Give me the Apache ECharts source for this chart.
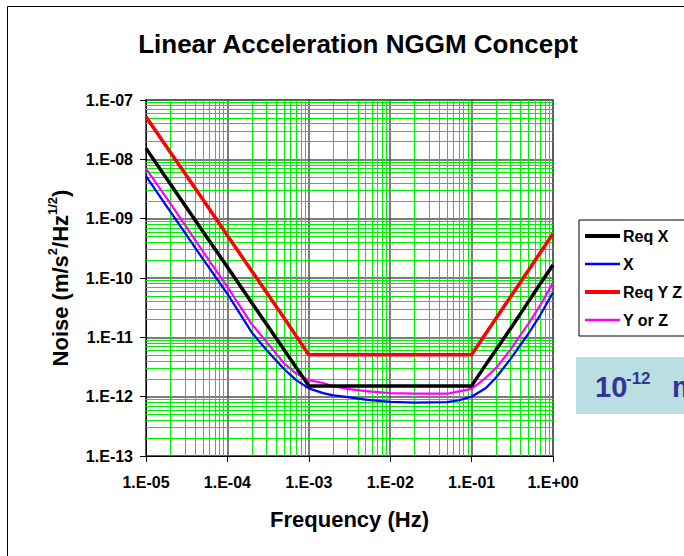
<!DOCTYPE html>
<html>
<head>
<meta charset="utf-8">
<script src="https://cdn.jsdelivr.net/npm/echarts/dist/echarts.min.js"></script>
<style>
  html, body { margin: 0; padding: 0; background: #fff; }
  #chart { width: 684px; height: 556px; }
</style>
</head>
<body>
<div id="chart"></div>
<script>
// frequency points (Hz)
const freq = [1e-5, 2e-5, 5e-5, 1e-4, 2e-4, 3e-4, 5e-4, 7e-4, 1e-3, 1.5e-3, 2e-3, 3e-3, 5e-3,
  1e-2, 2e-2, 5e-2, 7e-2, 1e-1, 1.5e-1, 2e-1, 3e-1, 5e-1, 7e-1, 1]

// noise, m/s^2/Hz^1/2
const reqX = [1.53e-8, 3.8e-9, 6.1e-10, 1.53e-10, 3.8e-11, 1.7e-11, 6.1e-12, 3.1e-12, 1.52e-12,
  1.52e-12, 1.52e-12, 1.52e-12, 1.52e-12, 1.52e-12, 1.52e-12, 1.52e-12, 1.52e-12, 1.52e-12,
  3.5e-12, 6.2e-12, 1.4e-11, 4.0e-11, 8.1e-11, 1.66e-10]
const measX = [5.2e-9, 1.3e-9, 2.1e-10, 5.4e-11, 1.2e-11, 6.2e-12, 2.9e-12, 1.9e-12, 1.38e-12,
  1.15e-12, 1.05e-12, 9.8e-13, 8.9e-13, 8.2e-13, 7.9e-13, 8.1e-13, 8.7e-13, 1.0e-12,
  1.4e-12, 2.1e-12, 4.3e-12, 1.16e-11, 2.4e-11, 5.7e-11]
const reqYZ = [5.2e-8, 1.3e-8, 2.1e-9, 5.2e-10, 1.3e-10, 5.8e-11, 2.1e-11, 1.05e-11, 5.1e-12,
  5.1e-12, 5.1e-12, 5.1e-12, 5.1e-12, 5.1e-12, 5.1e-12, 5.1e-12, 5.1e-12, 5.1e-12,
  1.17e-11, 2.1e-11, 4.8e-11, 1.35e-10, 2.7e-10, 5.6e-10]
const measYZ = [7.0e-9, 1.8e-9, 2.8e-10, 7.1e-11, 1.66e-11, 8.5e-12, 3.6e-12, 2.45e-12, 1.9e-12,
  1.7e-12, 1.5e-12, 1.35e-12, 1.24e-12, 1.15e-12, 1.12e-12, 1.12e-12, 1.23e-12, 1.35e-12,
  2.1e-12, 3.05e-12, 6.2e-12, 1.7e-11, 3.5e-11, 8.3e-11]

const seriesNames = ['Req X', 'X', 'Req Y Z', 'Y or Z']
const xDecades = [-5, -4, -3, -2, -1]
const yDecades = [-13, -12, -11, -10, -9, -8]
const xMin = 1e-5, xMax = 1
const yMin = 1e-13, yMax = 1e-7

const FONT = '"Liberation Sans", Arial, sans-serif'

function sciLabel(v) {
  const e = Math.round(Math.log10(v))
  return '1.E' + (e < 0 ? '-' : '+') + String(Math.abs(e)).padStart(2, '0')
}

// minor (2..9) grid lines of the log grid, as segments in data space
const minorLines = []
xDecades.forEach(d => {
  for (let k = 2; k <= 9; k++) {
    const v = k * Math.pow(10, d)
    minorLines.push({ coords: [[v, yMin], [v, yMax]] })
  }
})
yDecades.forEach(d => {
  for (let k = 2; k <= 9; k++) {
    const v = k * Math.pow(10, d)
    minorLines.push({ coords: [[xMin, v], [xMax, v]] })
  }
})

const pairs = arr => freq.map((f, i) => [f, arr[i]])
const thick = 'path://M0,0H35V4H0Z'
const thin = 'path://M0,0H35V2.5H0Z'

const chart = echarts.init(document.getElementById('chart'), null, { renderer: 'svg' })
chart.setOption({
  animation: false,
  backgroundColor: '#fff',
  textStyle: { fontFamily: FONT },
  title: {
    text: 'Linear Acceleration NGGM Concept',
    left: 353,
    top: 26,
    textAlign: 'center',
    textStyle: { fontSize: 26, fontWeight: 'bold', color: '#000', fontFamily: FONT }
  },
  grid: {
    left: 146, right: 131, top: 100, bottom: 100,
    show: true, borderColor: '#808080', borderWidth: 2, backgroundColor: '#fff'
  },
  legend: {
    data: [
      { name: 'Req X', icon: thick },
      { name: 'X', icon: thin },
      { name: 'Req Y Z', icon: thick },
      { name: 'Y or Z', icon: thin }
    ],
    orient: 'vertical',
    left: 579,
    top: 220,
    padding: [8, 30, 8, 6],
    itemWidth: 35,
    itemHeight: 14,
    itemGap: 12,
    borderColor: '#000',
    borderWidth: 1,
    textStyle: { fontSize: 16, fontWeight: 'bold', color: '#000', fontFamily: FONT, padding: [0, 0, 0, -2] }
  },
  xAxis: {
    type: 'log',
    logBase: 10,
    min: xMin,
    max: xMax,
    splitNumber: 5,
    name: 'Frequency (Hz)',
    nameLocation: 'middle',
    nameGap: 52,
    nameTextStyle: { fontSize: 22, fontWeight: 'bold', color: '#000', fontFamily: FONT },
    axisLine: { lineStyle: { color: '#000', width: 1 } },
    axisTick: { show: true, length: 6, lineStyle: { color: '#000' } },
    axisLabel: { formatter: sciLabel, margin: 18, fontSize: 16, fontWeight: 'bold', color: '#000', fontFamily: FONT },
    splitLine: { show: true, lineStyle: { color: '#505050', width: 1.5 } }
  },
  yAxis: {
    type: 'log',
    logBase: 10,
    min: yMin,
    max: yMax,
    splitNumber: 6,
    name: '{n|Noise (m/s}{s|2}{n|/Hz}{s|1/2}{n|)}',
    nameLocation: 'middle',
    nameRotate: 90,
    nameGap: 72,
    nameTextStyle: {
      rich: {
        n: { fontSize: 22, fontWeight: 'bold', color: '#000', fontFamily: FONT, lineHeight: 28, verticalAlign: 'middle' },
        s: { fontSize: 13, fontWeight: 'bold', color: '#000', fontFamily: FONT, lineHeight: 14, verticalAlign: 'top' }
      }
    },
    axisLine: { show: true, lineStyle: { color: '#000', width: 1 } },
    axisTick: { show: true, length: 6, lineStyle: { color: '#000' } },
    axisLabel: { formatter: sciLabel, margin: 13, fontSize: 16, fontWeight: 'bold', color: '#000', fontFamily: FONT },
    splitLine: { show: true, lineStyle: { color: '#505050', width: 1.5 } }
  },
  graphic: [
    {
      type: 'rect', silent: true, z: -10,
      shape: { x: 7.5, y: 6.5, width: 720, height: 620 },
      style: { fill: 'none', stroke: '#000', lineWidth: 1 }
    },
    {
      type: 'rect', silent: true,
      shape: { x: 576, y: 357, width: 120, height: 57 },
      style: { fill: '#b9dfe2' }
    },
    {
      type: 'text', silent: true, left: 595, top: 372,
      style: { text: '10', fontSize: 29, fontWeight: 'bold', fill: '#333399', fontFamily: FONT }
    },
    {
      type: 'text', silent: true, left: 626, top: 370,
      style: { text: '-12', fontSize: 17, fontWeight: 'bold', fill: '#333399', fontFamily: FONT }
    },
    {
      type: 'text', silent: true, left: 672, top: 372,
      style: { text: 'm/s', fontSize: 29, fontWeight: 'bold', fill: '#333399', fontFamily: FONT }
    }
  ],
  series: [
    {
      // green minor grid lines
      name: 'minor grid',
      type: 'lines',
      coordinateSystem: 'cartesian2d',
      z: 1,
      silent: true,
      lineStyle: { color: '#00ee00', width: 1, opacity: 1, curveness: 0 },
      data: minorLines
    },
    { name: 'Req X', type: 'line', z: 5, symbol: 'none', data: pairs(reqX), lineStyle: { color: '#000000', width: 3.5 }, itemStyle: { color: '#000000' } },
    { name: 'X', type: 'line', z: 4, symbol: 'none', data: pairs(measX), lineStyle: { color: '#0000ff', width: 2.25 }, itemStyle: { color: '#0000ff' } },
    { name: 'Req Y Z', type: 'line', z: 5, symbol: 'none', data: pairs(reqYZ), lineStyle: { color: '#ff0000', width: 3.5 }, itemStyle: { color: '#ff0000' } },
    { name: 'Y or Z', type: 'line', z: 4, symbol: 'none', data: pairs(measYZ), lineStyle: { color: '#ff00ff', width: 2.25 }, itemStyle: { color: '#ff00ff' } }
  ]
})
</script>
</body>
</html>
